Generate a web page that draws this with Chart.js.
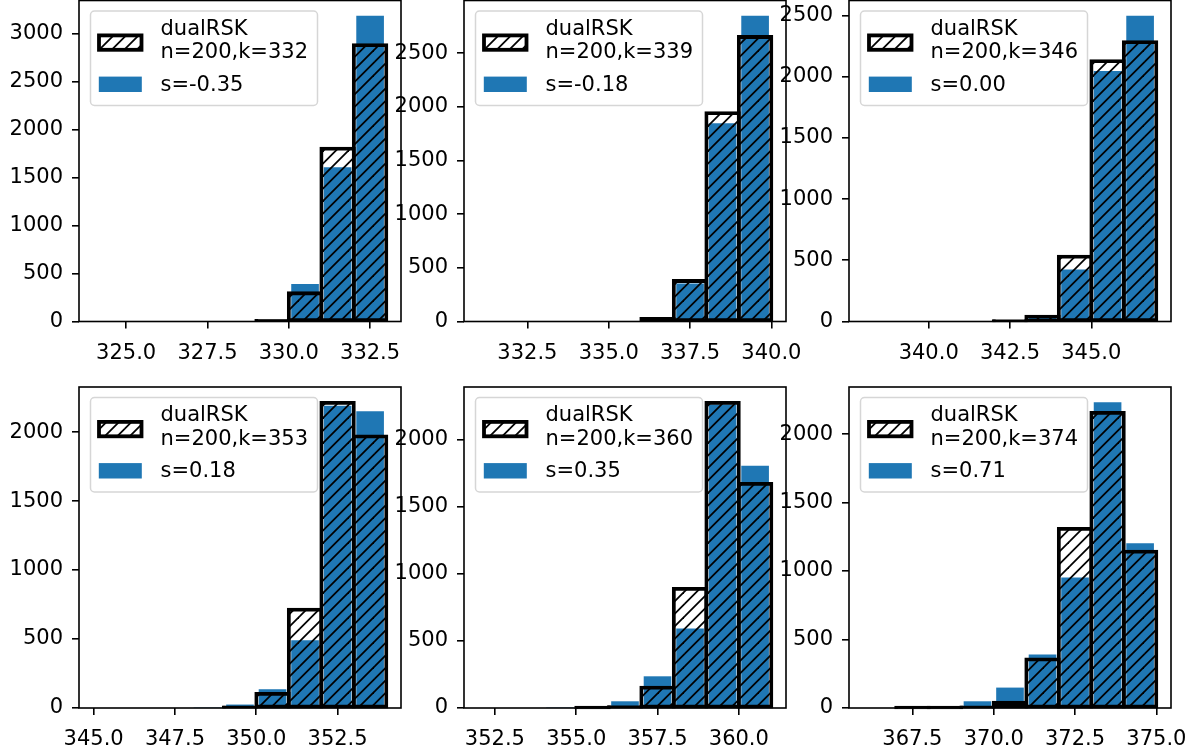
<!DOCTYPE html>
<html>
<head>
<meta charset="utf-8">
<script src="https://cdn.jsdelivr.net/npm/chart.js@4.4.1/dist/chart.umd.min.js"></script>
<style>
  html, body { margin: 0; padding: 0; background: #fff; overflow: hidden; }
  body { width: 1200px; height: 750px; position: relative; }
  canvas { position: absolute; }
</style>
</head>
<body>
<script>
// k and s of each panel, row by row
const kValues = [332, 339, 346, 353, 360, 374];
const sValues = ['-0.35', '-0.18', '0.00', '0.18', '0.35', '0.71'];

// bin centres (bins are one unit wide)
const bins1 = [324.5, 325.5, 326.5, 327.5, 328.5, 329.5, 330.5, 331.5, 332.5];
const bins2 = [331.5, 332.5, 333.5, 334.5, 335.5, 336.5, 337.5, 338.5, 339.5];
const bins3 = [338.5, 339.5, 340.5, 341.5, 342.5, 343.5, 344.5, 345.5, 346.5];
const bins4 = [345.5, 346.5, 347.5, 348.5, 349.5, 350.5, 351.5, 352.5, 353.5];
const bins5 = [352.5, 353.5, 354.5, 355.5, 356.5, 357.5, 358.5, 359.5, 360.5];
const bins6 = [366.5, 367.5, 368.5, 369.5, 370.5, 371.5, 372.5, 373.5, 374.5];

// dualRSK counts (hatched outline)
const dual1 = [0, 0, 0, 0, 0, 12, 300, 1810, 2890];
const dual2 = [0, 0, 0, 0, 0, 30, 382, 1946, 2655];
const dual3 = [0, 0, 0, 0, 5, 43, 534, 2131, 2286];
const dual4 = [0, 0, 0, 0, 8, 106, 716, 2216, 1972];
const dual5 = [0, 0, 0, 2, 10, 156, 890, 2276, 1672];
const dual6 = [0, 2, 2, 8, 42, 358, 1311, 2159, 1146];

// s= sample counts (blue)
const samp1 = [0, 0, 0, 0, 0, 3, 390, 1610, 3190];
const samp2 = [0, 0, 0, 0, 0, 20, 355, 1847, 2848];
const samp3 = [0, 0, 0, 0, 3, 35, 425, 2047, 2497];
const samp4 = [0, 0, 0, 3, 25, 136, 491, 2190, 2151];
const samp5 = [0, 0, 3, 13, 50, 236, 592, 2260, 1803];
const samp6 = [0, 2, 12, 49, 149, 390, 953, 2232, 1202];

// tick values
const xTicks1 = [325, 327.5, 330, 332.5];
const xTicks2 = [332.5, 335, 337.5, 340];
const xTicks3 = [340, 342.5, 345];
const xTicks4 = [345, 347.5, 350, 352.5];
const xTicks5 = [352.5, 355, 357.5, 360];
const xTicks6 = [367.5, 370, 372.5, 375];
const yTicks1 = [0, 500, 1000, 1500, 2000, 2500, 3000];
const yTicks2 = [0, 500, 1000, 1500, 2000, 2500];
const yTicks3 = [0, 500, 1000, 1500, 2000, 2500];
const yTicks4 = [0, 500, 1000, 1500, 2000];
const yTicks5 = [0, 500, 1000, 1500, 2000];
const yTicks6 = [0, 500, 1000, 1500, 2000];

const allBins = [bins1, bins2, bins3, bins4, bins5, bins6];
const allDual = [dual1, dual2, dual3, dual4, dual5, dual6];
const allSamp = [samp1, samp2, samp3, samp4, samp5, samp6];
const allXTicks = [xTicks1, xTicks2, xTicks3, xTicks4, xTicks5, xTicks6];
const allYTicks = [yTicks1, yTicks2, yTicks3, yTicks4, yTicks5, yTicks6];

const BLUE = '#1f77b4';
const FONT = 21;
const PLOT_W = 322, PLOT_H = 321;
const AXIS_W = 80, AXIS_H = 48, PAD_R = 30;

Chart.defaults.font.family = '"DejaVu Sans", sans-serif';
Chart.defaults.font.size = FONT;
Chart.defaults.color = '#000';

function hatchTile() {
  const size = 25;
  const c = document.createElement('canvas');
  c.width = size; c.height = size;
  const g = c.getContext('2d');
  g.strokeStyle = '#000';
  g.lineWidth = 1.8;
  for (let off = 0; off <= 2 * size; off += size / 2) {
    g.beginPath();
    g.moveTo(off + 5, -5);
    g.lineTo(off - size - 5, size + 5);
    g.stroke();
  }
  return c;
}
const tile = hatchTile();

function toPoints(bins, counts) {
  return bins.map((b, j) => ({ x: b, y: counts[j] })).filter(p => p.y > 0);
}

function roundedRect(ctx, x, y, w, h, r) {
  ctx.beginPath();
  ctx.moveTo(x + r, y);
  ctx.arcTo(x + w, y, x + w, y + h, r);
  ctx.arcTo(x + w, y + h, x, y + h, r);
  ctx.arcTo(x, y + h, x, y, r);
  ctx.arcTo(x, y, x + w, y, r);
  ctx.closePath();
}

function buildPanel(i) {
  const col = i % 3, row = Math.floor(i / 3);
  const plotLeft = [79, 464, 849][col];
  const plotTop = [0.5, 387][row];
  const canvasTop = row === 0 ? 0 : plotTop - 20;
  const padTop = plotTop - canvasTop;
  const W = AXIS_W + PLOT_W + PAD_R;
  const H = Math.ceil(padTop + PLOT_H + AXIS_H);

  const canvas = document.createElement('canvas');
  canvas.width = W; canvas.height = H;
  canvas.style.left = (plotLeft - AXIS_W) + 'px';
  canvas.style.top = canvasTop + 'px';
  canvas.style.width = W + 'px';
  canvas.style.height = H + 'px';
  document.body.appendChild(canvas);

  const hatch = canvas.getContext('2d').createPattern(tile, 'repeat');
  const bins = allBins[i];
  const yMax = Math.max(...allDual[i], ...allSamp[i]) * 1.05;
  const xMin = bins[0] - 0.95, xMax = bins[bins.length - 1] + 0.95;

  const frame = {
    id: 'frame',
    afterDatasetsDraw(chart) {
      const { ctx, chartArea: a } = chart;
      ctx.save();
      ctx.strokeStyle = '#000';
      ctx.lineWidth = 1.6;
      ctx.strokeRect(a.left, a.top, a.right - a.left, a.bottom - a.top);
      ctx.restore();
    }
  };

  const legendBox = {
    id: 'legendBox',
    afterDraw(chart) {
      const { ctx, chartArea: a } = chart;
      const lines = ['dualRSK', 'n=200,k=' + kValues[i]];
      const sText = 's=' + sValues[i];
      const x = a.left + 11.5, y = a.top + 10.5;
      ctx.save();
      ctx.font = FONT + 'px "DejaVu Sans"';
      const tw = Math.max(...lines.map(t => ctx.measureText(t).width), ctx.measureText(sText).width);
      roundedRect(ctx, x, y, 70 + tw + 9.5, 94.5, 4);
      ctx.fillStyle = 'rgba(255,255,255,0.8)';
      ctx.fill();
      ctx.strokeStyle = 'rgba(204,204,204,0.8)';
      ctx.lineWidth = 1.5;
      ctx.stroke();

      ctx.fillStyle = hatch;
      ctx.fillRect(x + 8.5, y + 31.6 - 7.2, 42.5, 14.4);
      ctx.strokeStyle = '#000';
      ctx.lineWidth = 3.8;
      ctx.strokeRect(x + 8.5, y + 31.6 - 7.2, 42.5, 14.4);

      ctx.fillStyle = BLUE;
      ctx.fillRect(x + 8.3, y + 65.6, 43, 15.4);

      ctx.fillStyle = '#000';
      ctx.textAlign = 'left';
      ctx.textBaseline = 'middle';
      ctx.fillText(lines[0], x + 70, y + 18.5);
      ctx.fillText(lines[1], x + 70, y + 41.8);
      ctx.fillText(sText, x + 70, y + 74.3);
      ctx.restore();
    }
  };

  new Chart(canvas, {
    type: 'bar',
    data: {
      datasets: [
        {
          label: 'dualRSK',
          data: toPoints(bins, allDual[i]),
          backgroundColor: c => (c.raw && c.raw.y / yMax * PLOT_H < 4.8) ? '#000' : hatch,
          borderColor: '#000',
          borderWidth: 1,
          inflateAmount: 1.4,
          borderSkipped: false,
          barPercentage: 1.031,
          categoryPercentage: 1,
          grouped: false,
          order: 1,
          clip: false
        },
        {
          label: 's=' + sValues[i],
          data: toPoints(bins, allSamp[i]),
          backgroundColor: BLUE,
          borderWidth: 0,
          barPercentage: 0.85,
          categoryPercentage: 1,
          grouped: false,
          order: 2
        }
      ]
    },
    options: {
      responsive: false,
      animation: false,
      devicePixelRatio: 1,
      layout: { padding: { top: padTop, right: PAD_R, left: 0, bottom: H - padTop - PLOT_H - AXIS_H } },
      plugins: { legend: { display: false }, tooltip: { enabled: false } },
      scales: {
        x: {
          type: 'linear',
          min: xMin,
          max: xMax,
          offset: false,
          border: { display: false },
          grid: { display: true, offset: false, drawOnChartArea: false, drawTicks: true, tickLength: 7, color: '#000', lineWidth: 1.6 },
          ticks: { autoSkip: false, maxRotation: 0, padding: 12, callback: v => v.toFixed(1) },
          afterBuildTicks(s) { s.ticks = allXTicks[i].map(v => ({ value: v })); },
          afterFit(s) { s.height = AXIS_H; s.paddingLeft = 0; s.paddingRight = 0; }
        },
        y: {
          type: 'linear',
          min: 0,
          max: yMax,
          border: { display: false },
          grid: { display: true, drawOnChartArea: false, drawTicks: true, tickLength: 7, color: '#000', lineWidth: 1.6 },
          ticks: { autoSkip: false, padding: 9, callback: v => String(v) },
          afterBuildTicks(s) { s.ticks = allYTicks[i].map(v => ({ value: v })); },
          afterFit(s) { s.width = AXIS_W; s.paddingTop = 0; s.paddingBottom = 0; }
        }
      }
    },
    plugins: [frame, legendBox]
  });
}

for (let i = 0; i < 6; i++) buildPanel(i);
</script>
</body>
</html>
